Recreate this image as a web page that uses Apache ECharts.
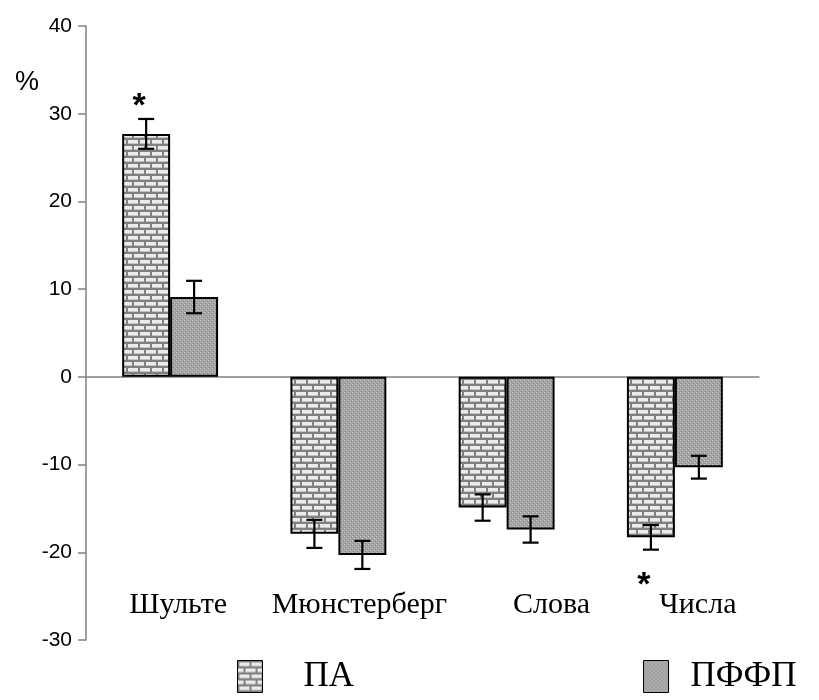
<!DOCTYPE html>
<html>
<head>
<meta charset="utf-8">
<script src="https://cdn.jsdelivr.net/npm/echarts@6/dist/echarts.min.js"></script>
<style>
html, body { margin: 0; background: #fff; }
#chart { width: 819px; height: 700px; }
</style>
</head>
<body>
<div id="chart"></div>
<script>
// данные
const categories = ['Шульте', 'Мюнстерберг', 'Слова', 'Числа']
const paValues = [27.7, -17.9, -14.9, -18.3]
const paErrors = [1.7, 1.6, 1.5, 1.4]
const pffpValues = [9.1, -20.3, -17.4, -10.3]
const pffpErrors = [1.85, 1.6, 1.5, 1.3]
const paStars = ['*', '', '', '*']
const yMin = -30
const yMax = 40
const yStep = 10

// сдвиг подписей категорий вправо (как в исходном рисунке)
const labelShift = [8, 21, 45, 23]

// кирпичная штриховка
function brickPattern() {
	const c = document.createElement('canvas')
	c.width = 12
	c.height = 12
	const g = c.getContext('2d')
	g.fillStyle = '#808080'
	g.fillRect(0, 0, 12, 12)
	g.fillStyle = '#ebebeb'
	g.fillRect(2, 2, 10, 4)
	g.fillRect(0, 8, 6, 4)
	g.fillRect(8, 8, 4, 4)
	g.fillStyle = '#c4c4c4'
	g.fillRect(2, 5, 10, 1)
	g.fillRect(0, 11, 6, 1)
	g.fillRect(8, 11, 4, 1)
	return c
}

// мелкая точечная штриховка
function dotPattern() {
	const c = document.createElement('canvas')
	c.width = 4
	c.height = 4
	const g = c.getContext('2d')
	g.fillStyle = '#a4a4a4'
	g.fillRect(0, 0, 4, 4)
	g.fillStyle = '#cfcfcf'
	g.fillRect(0, 0, 1, 1)
	g.fillRect(2, 2, 1, 1)
	g.fillStyle = '#8c8c8c'
	g.fillRect(1, 3, 1, 1)
	g.fillRect(3, 1, 1, 1)
	return c
}

const gapRatio = 0.43

function errorSeries(values, errors, side, stars) {
	return {
		type: 'custom',
		z: 10,
		silent: true,
		encode: { x: 0, y: 1 },
		data: values.map((v, i) => [i, v, errors[i]]),
		renderItem: function (params, api) {
			const i = api.value(0)
			const v = api.value(1)
			const e = api.value(2)
			const band = api.size([1, 0])[0]
			const bw = (band * (1 - gapRatio)) / 2
			const x = api.coord([i, v])[0] + (side * bw) / 2
			const top = api.coord([i, v + e])[1]
			const bot = api.coord([i, v - e])[1]
			const st = { stroke: '#000', lineWidth: 2.2 }
			const children = [
				{ type: 'line', shape: { x1: x, y1: top, x2: x, y2: bot }, style: st },
				{ type: 'line', shape: { x1: x - 8, y1: top, x2: x + 8, y2: top }, style: st },
				{ type: 'line', shape: { x1: x - 8, y1: bot, x2: x + 8, y2: bot }, style: st },
			]
			if (stars && stars[i]) {
				children.push({
					type: 'text',
					style: {
						text: stars[i],
						x: x - 7,
						y: v >= 0 ? top - 12 : bot + 36,
						align: 'center',
						verticalAlign: 'middle',
						font: 'bold 34px "Liberation Sans"',
						fill: '#000',
					},
				})
			}
			return { type: 'group', children: children }
		},
	}
}

const labelRich = {}
categories.forEach((c, i) => {
	labelRich['c' + i] = {
		fontFamily: 'Liberation Serif',
		fontSize: 30,
		color: '#000',
		padding: [0, 0, 0, labelShift[i] * 2],
	}
})

const option = {
	animation: false,
	title: {
		text: '%',
		left: 10,
		top: 64,
		textStyle: { fontFamily: 'Liberation Sans', fontSize: 27, fontWeight: 'normal', color: '#000' },
	},
	legend: {
		left: 232,
		top: 654,
		itemWidth: 25,
		itemHeight: 32,
		itemGap: 289,
		icon: 'rect',
		itemStyle: { borderColor: '#000', borderWidth: 1 },
		textStyle: { fontFamily: 'Liberation Serif', fontSize: 35, color: '#000' },
		data: [
			{ name: 'ПА', textStyle: { padding: [0, 0, 0, 36] } },
			{ name: 'ПФФП', textStyle: { padding: [0, 0, 0, 17] } },
		],
	},
	grid: { left: 86, right: 60, top: 26, bottom: 60, containLabel: false, outerBoundsMode: 'none' },
	xAxis: [
		{
			type: 'category',
			data: categories,
			axisLine: { lineStyle: { color: '#808080', width: 1.5 } },
			axisTick: { length: 8, lineStyle: { color: '#808080', width: 1.5 } },
			axisLabel: { show: false },
		},
		{
			// подписи категорий внутри области графика
			type: 'category',
			data: categories,
			position: 'bottom',
			offset: -50,
			axisLine: { show: false, onZero: false },
			axisTick: { show: false },
			axisLabel: {
				interval: 0,
				hideOverlap: false,
				margin: 0,
				formatter: (val, idx) => '{c' + idx + '|' + val + '}',
				rich: labelRich,
			},
		},
	],
	yAxis: {
		type: 'value',
		min: yMin,
		max: yMax,
		interval: yStep,
		axisLine: { show: true, lineStyle: { color: '#808080', width: 1.5 } },
		axisTick: { show: true, length: 8, lineStyle: { color: '#808080', width: 1.5 } },
		axisLabel: { fontFamily: 'Liberation Sans', fontSize: 21, color: '#000', margin: 14 },
		splitLine: { show: false },
	},
	series: [
		{
			name: 'ПА',
			type: 'bar',
			barGap: '0%',
			barCategoryGap: gapRatio * 100 + '%',
			data: paValues,
			itemStyle: { color: { image: brickPattern(), repeat: 'repeat' }, borderColor: '#000', borderWidth: 2 },
		},
		{
			name: 'ПФФП',
			type: 'bar',
			data: pffpValues,
			itemStyle: { color: { image: dotPattern(), repeat: 'repeat' }, borderColor: '#000', borderWidth: 2 },
		},
		errorSeries(paValues, paErrors, -1, paStars),
		errorSeries(pffpValues, pffpErrors, 1, null),
	],
}

const chart = echarts.init(document.getElementById('chart'))
chart.setOption(option)
</script>
</body>
</html>
